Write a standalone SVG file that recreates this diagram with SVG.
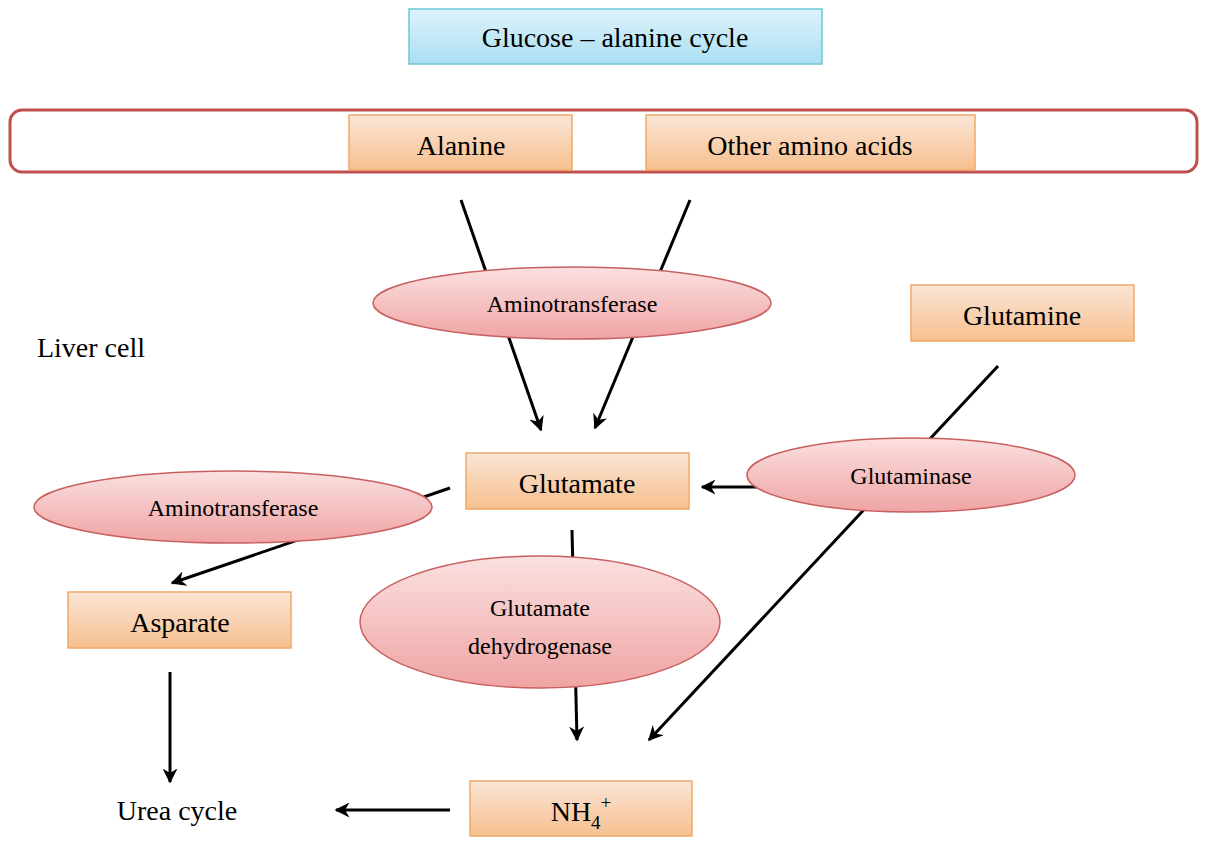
<svg xmlns="http://www.w3.org/2000/svg" width="1206" height="848" viewBox="0 0 1206 848">
<defs>
<linearGradient id="og" x1="0" y1="0" x2="0" y2="1"><stop offset="0" stop-color="#fbe5d6"/><stop offset="1" stop-color="#f6c08f"/></linearGradient>
<linearGradient id="pg" x1="0" y1="0" x2="0" y2="1"><stop offset="0" stop-color="#fbe0e0"/><stop offset="1" stop-color="#f0a4a4"/></linearGradient>
<linearGradient id="bg" x1="0" y1="0" x2="0" y2="1"><stop offset="0" stop-color="#def3fb"/><stop offset="1" stop-color="#a9dff2"/></linearGradient>
<marker id="ah" viewBox="0 0 10 10" refX="9" refY="5" markerWidth="5" markerHeight="5" orient="auto"><path d="M0,0 L10,5 L0,10 L3,5 z" fill="#000"/></marker>
</defs>
<style>
text{font-family:"Liberation Serif","Times New Roman",serif;fill:#000;text-anchor:middle}
.b{fill:url(#og);stroke:#f0a868;stroke-width:1.5}
.e{fill:url(#pg);stroke:#c96060;stroke-width:1.5}
.c line{stroke:#000;stroke-width:3;marker-end:url(#ah)}
.c line.n{marker-end:none}
.t{font-size:28px}
.s{font-size:24px}
</style>
<rect width="1206" height="848" fill="#fff"/>
<g id="title"><rect x="409" y="9" width="413" height="55" fill="url(#bg)" stroke="#6cc8d8" stroke-width="1.5"/><text x="615" y="47" class="t">Glucose – alanine cycle</text></g>
<g id="band"><rect x="10" y="110" width="1187" height="62" rx="12" fill="#fff" stroke="#c0504d" stroke-width="3"/></g>
<g id="alanine"><rect class="b" x="349" y="115" width="223" height="55"/><text x="461" y="155" class="t">Alanine</text></g>
<g id="other"><rect class="b" x="646" y="115" width="329" height="55"/><text x="810" y="155" class="t">Other amino acids</text></g>
<g class="c" id="connectors">
<line x1="461" y1="200" x2="541" y2="430"/>
<line x1="690" y1="200" x2="595" y2="428"/>
<line x1="760" y1="487" x2="702" y2="487"/>
<line x1="998" y1="366" x2="649" y2="740"/>
<line x1="450" y1="488" x2="172" y2="583"/>
<line x1="170" y1="672" x2="170" y2="782"/>
<line x1="572" y1="530" x2="577" y2="740"/>
<line x1="450" y1="810" x2="336" y2="810"/>
</g>
<g id="amt1"><ellipse class="e" cx="572" cy="303" rx="199" ry="36"/><text x="572" y="312" class="s">Aminotransferase</text></g>
<g id="glutamine"><rect class="b" x="911" y="285" width="223" height="56"/><text x="1022" y="325" class="t">Glutamine</text></g>
<g id="liver"><text x="91" y="357" class="t">Liver cell</text></g>
<g id="glutamate"><rect class="b" x="466" y="453" width="223" height="56"/><text x="577" y="493" class="t">Glutamate</text></g>
<g id="glutaminase"><ellipse class="e" cx="911" cy="475" rx="164" ry="37"/><text x="911" y="484" class="s">Glutaminase</text></g>
<g id="amt2"><ellipse class="e" cx="233" cy="507" rx="199" ry="36"/><text x="233" y="516" class="s">Aminotransferase</text></g>
<g id="asparate"><rect class="b" x="68" y="592" width="223" height="56"/><text x="180" y="632" class="t">Asparate</text></g>
<g id="gdh"><ellipse class="e" cx="540" cy="622" rx="180" ry="66"/><text x="540" y="616" class="s">Glutamate</text><text x="540" y="654" class="s">dehydrogenase</text></g>
<g id="urea"><text x="177" y="820" class="t">Urea cycle</text></g>
<g id="nh4"><rect class="b" x="470" y="781" width="222" height="55"/><text x="581" y="821" class="t">NH<tspan font-size="19" dy="8">4</tspan><tspan font-size="19" dy="-20">+</tspan></text></g>
</svg>
